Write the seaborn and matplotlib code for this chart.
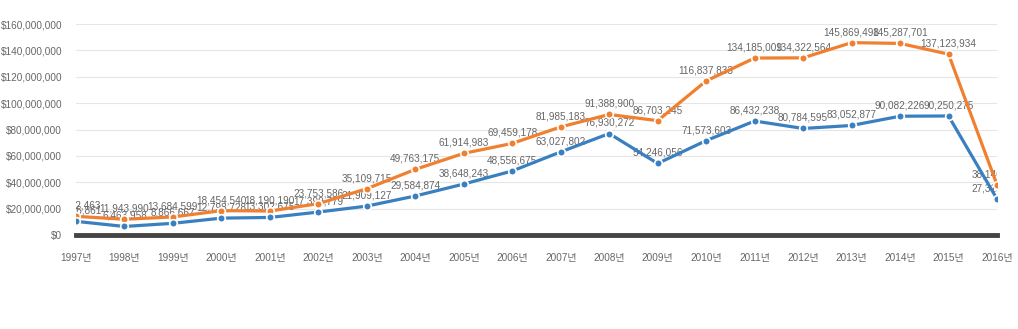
import matplotlib
matplotlib.use("Agg")
import matplotlib.pyplot as plt
import seaborn as sns
import pandas as pd
from matplotlib.ticker import FuncFormatter

years = [f"{y}년" for y in range(1997, 2017)]
orange_vals = [14152463, 11943990, 13684599, 18454540, 18190190, 23753586,
               35109715, 49763175, 61914983, 69459178, 81985183, 91388900,
               86703245, 116837833, 134185009, 134322564, 145869498,
               145287701, 137123934, 38146512]
blue_vals = [10346861, 6463958, 8866667, 12798728, 13302675, 17399779,
             21909127, 29584874, 38648243, 48556675, 63027802, 76930272,
             54246056, 71573603, 86432238, 80784595, 83052877, 90082226,
             90250275, 27318400]
y_ticks = [0, 20000000, 40000000, 60000000, 80000000, 100000000,
           120000000, 140000000, 160000000]

sns.set_theme(style="white")
plt.rcParams['font.family'] = ['Liberation Sans', 'Noto Sans CJK KR', 'DejaVu Sans']

BLUE = "#3a80c1"
ORANGE = "#f08030"
GRAY = "#666666"

df = pd.DataFrame({
    "x": list(range(len(years))) * 2,
    "value": orange_vals + blue_vals,
    "series": ["orange"] * len(years) + ["blue"] * len(years),
})

fig = plt.figure(figsize=(10.18, 3.29), dpi=100)
ax = fig.add_axes([76 / 1018, (329 - 235) / 329, (997 - 76) / 1018, (235 - 24) / 329])

sns.lineplot(data=df, x="x", y="value", hue="series",
             palette={"orange": ORANGE, "blue": BLUE},
             hue_order=["orange", "blue"], ax=ax, legend=False,
             linewidth=2.3, marker="o", markersize=5.5,
             markeredgecolor="white", markeredgewidth=1.2, zorder=3)

for vals, in [(orange_vals,), (blue_vals,)]:
    for i, v in enumerate(vals):
        ax.annotate(f"{v:,}", (i, v), xytext=(0, 4), textcoords="offset points",
                    ha="center", va="bottom", fontsize=7.2, color=GRAY,
                    clip_on=True, zorder=2.5)

ax.set_xlim(0, len(years) - 1)
ax.set_ylim(0, 160000000)
ax.set_yticks(y_ticks)
ax.yaxis.set_major_formatter(FuncFormatter(lambda v, p: f"${int(v):,}"))
ax.set_xticks(range(len(years)))
ax.set_xticklabels(years)
ax.tick_params(axis="both", labelsize=7.2, colors=GRAY, length=0)
ax.tick_params(axis="x", pad=13)
ax.tick_params(axis="y", pad=10)
ax.grid(axis="y", color="#e6e6e6", linewidth=0.8)
ax.set_axisbelow(True)
ax.set_xlabel("")
ax.set_ylabel("")
for s in ["top", "right", "left"]:
    ax.spines[s].set_visible(False)
ax.spines["bottom"].set_color("#444444")
ax.spines["bottom"].set_linewidth(3.5)
ax.spines["bottom"].set_zorder(4)

fig.savefig("out.png", dpi=100)
